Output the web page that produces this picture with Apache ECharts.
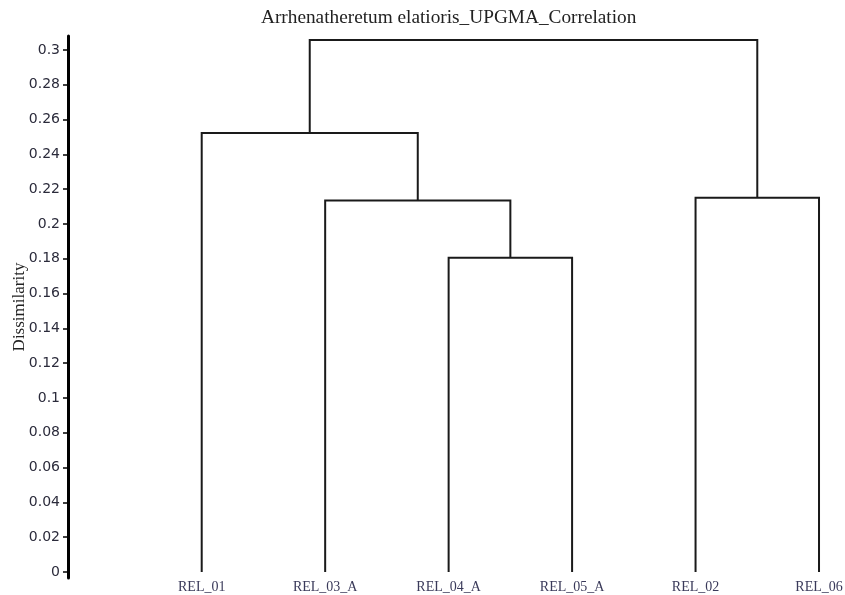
<!DOCTYPE html>
<html>
<head>
<meta charset="utf-8">
<script src="https://cdn.jsdelivr.net/npm/echarts@6/dist/echarts.min.js"></script>
<style>html,body{margin:0;padding:0;background:#fff;}#c{width:845px;height:595px;}</style>
</head>
<body>
<div id="c"></div>
<script>
// Leaves in dendrogram order
var leaves = ['REL_01', 'REL_03_A', 'REL_04_A', 'REL_05_A', 'REL_02', 'REL_06'];
// Merges: node ids 0..5 are leaves, 6.. are merges in order
var mergeLeft   = [2, 1, 0, 4, 8];
var mergeRight  = [3, 6, 7, 5, 9];
var mergeHeight = [0.1806, 0.2134, 0.2523, 0.2151, 0.3057];
var yTicks = [0, 0.02, 0.04, 0.06, 0.08, 0.1, 0.12, 0.14, 0.16, 0.18, 0.2, 0.22, 0.24, 0.26, 0.28, 0.3];
var yTickLabels = ['0','0.02','0.04','0.06','0.08','0.1','0.12','0.14','0.16','0.18','0.2','0.22','0.24','0.26','0.28','0.3'];
var leafIndex = [0, 1, 2, 3, 4, 5];

// build node positions
var nodeX = leafIndex.slice();
var nodeH = leafIndex.map(function(){ return 0; });
var segs = [];
for (var i = 0; i < mergeLeft.length; i++) {
  var l = mergeLeft[i], r = mergeRight[i], h = mergeHeight[i];
  segs.push([nodeX[l], nodeH[l], nodeX[r], nodeH[r], h]);
  nodeX.push((nodeX[l] + nodeX[r]) / 2);
  nodeH.push(h);
}

var chart = echarts.init(document.getElementById('c'));
chart.setOption({
  animation: false,
  backgroundColor: '#fff',
  title: {
    text: 'Arrhenatheretum elatioris_UPGMA_Correlation',
    left: 256, top: 3,
    textStyle: { fontFamily: 'Liberation Serif', fontSize: 19.3, fontWeight: 'normal', color: '#222' }
  },
  grid: { left: 68, right: 15, top: 36, bottom: 17, containLabel: false, outerBoundsMode: 'none' },
  xAxis: {
    type: 'value', min: -1.083, max: 5.089,
    axisLine: { show: false, onZero: false }, axisTick: { show: false }, splitLine: { show: false },
    axisLabel: {
      customValues: leafIndex,
      formatter: function (v) { return leaves[Math.round(v)]; },
      margin: 2,
      fontFamily: 'Liberation Serif', fontSize: 14, color: '#3a3a5a'
    }
  },
  yAxis: {
    type: 'value', min: -0.0035, max: 0.308,
    name: 'Dissimilarity', nameLocation: 'middle', nameGap: 40, nameMoveOverlap: false,
    nameTextStyle: { fontFamily: 'Liberation Serif', fontSize: 17, color: '#222' },
    axisLine: { show: true, onZero: false, lineStyle: { color: '#000', width: 3 } },
    axisTick: { show: true, customValues: yTicks, length: 5, lineStyle: { color: '#000', width: 1.5 } },
    axisLabel: {
      customValues: yTicks,
      formatter: function (v) {
        for (var k = 0; k < yTicks.length; k++) if (Math.abs(yTicks[k] - v) < 1e-9) return yTickLabels[k];
        return '';
      },
      margin: 8,
      fontFamily: 'DejaVu Sans', fontSize: 14, color: '#2b2b3b'
    },
    splitLine: { show: false }
  },
  series: [{
    type: 'custom',
    data: segs,
    encode: { x: [0, 2], y: [1, 3, 4] },
    renderItem: function (params, api) {
      var xl = api.value(0), hl = api.value(1), xr = api.value(2), hr = api.value(3), H = api.value(4);
      var pts = [api.coord([xl, hl]), api.coord([xl, H]), api.coord([xr, H]), api.coord([xr, hr])];
      return {
        type: 'polyline',
        shape: { points: pts },
        style: { stroke: '#1a1a1a', lineWidth: 2, fill: null }
      };
    }
  }]
});
</script>
</body>
</html>
